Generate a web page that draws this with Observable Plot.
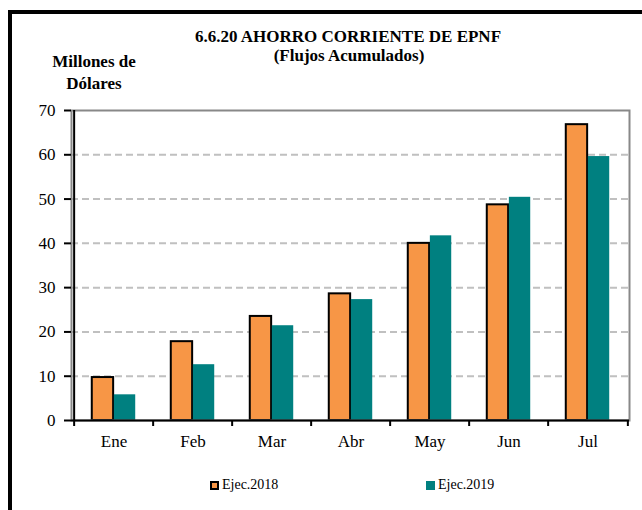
<!DOCTYPE html>
<html>
<head>
<meta charset="utf-8">
<script src="https://cdn.jsdelivr.net/npm/d3@7"></script>
<script src="https://cdn.jsdelivr.net/npm/@observablehq/plot@0.6"></script>
<style>
  html, body { margin: 0; padding: 0; background: #fff; }
  #wrap { position: relative; width: 642px; height: 510px; overflow: hidden; }
  #wrap, #wrap div, #wrap span { font-family: "Liberation Serif", "Times New Roman", Times, serif !important; }
  #frame { position: absolute; left: 8px; top: 10px; width: 700px; height: 600px; border-left: 4px solid #000; border-top: 4px solid #000; box-sizing: border-box; }
  #chart { position: absolute; left: 0; top: 0; }
  .t { position: absolute; font-weight: bold; color: #000; white-space: nowrap; text-align: center; transform: translateX(-50%); line-height: 17px; font-size: 17px; }
  #title1 { left: 348px; top: 28px; }
  #title2 { left: 349px; top: 47px; }
  #ylab { left: 94px; top: 51px; line-height: 22px; }
  .leg { position: absolute; top: 477px; font-size: 14px; display: flex; align-items: center; color: #000; }
  .sw { display: inline-block; width: 9px; height: 9px; margin-right: 3px; box-sizing: border-box; }
</style>
</head>
<body>
<div id="wrap">
  <div id="chart"></div>
  <div id="frame"></div>
  <div class="t" id="title1">6.6.20 AHORRO CORRIENTE DE EPNF</div>
  <div class="t" id="title2">(Flujos Acumulados)</div>
  <div class="t" id="ylab">Millones de<br>Dólares</div>
  <div class="leg" style="left:210px"><span class="sw" style="background:#F79646;border:2px solid #000"></span>Ejec.2018</div>
  <div class="leg" style="left:426px"><span class="sw" style="background:#008080"></span>Ejec.2019</div>
</div>
<script>
const months = ["Ene", "Feb", "Mar", "Abr", "May", "Jun", "Jul"];
const ejec2018 = [9.7, 17.8, 23.5, 28.6, 40.0, 48.7, 66.8];
const ejec2019 = [5.8, 12.6, 21.4, 27.3, 41.7, 50.4, 59.6];
const yTicks = [0, 10, 20, 30, 40, 50, 60, 70];
const gridTicks = [10, 20, 30, 40, 50, 60];

const d2018 = months.map((m, i) => ({month: m, value: ejec2018[i]}));
const d2019 = months.map((m, i) => ({month: m, value: ejec2019[i]}));

const W = 642, H = 510;
const mL = 71, mR = 13, mT = 110, mB = 90;
const step = (W - mL - mR) / months.length;
const half = step / 2;
const barW = step * 0.277;
const outer = (step - 2 * barW) / 2;

const orange = "#F79646", teal = "#008080";

const chart = Plot.plot({
  width: W,
  height: H,
  marginLeft: mL,
  marginRight: mR,
  marginTop: mT,
  marginBottom: mB,
  style: {fontFamily: "'Liberation Serif', 'Times New Roman', serif", fontSize: "17px", color: "#000", background: "transparent"},
  x: {domain: months, padding: 0, label: null},
  y: {domain: [0, 70], label: null},
  marks: [
    Plot.gridY(gridTicks, {stroke: "#c0c0c0", strokeOpacity: 1, strokeWidth: 2, strokeDasharray: "7,4"}),
    Plot.barY(d2018, {x: "month", y: "value", fill: orange, stroke: "#000", strokeWidth: 2, insetLeft: outer, insetRight: outer + barW}),
    Plot.barY(d2019, {x: "month", y: "value", fill: teal, insetLeft: outer + barW, insetRight: outer}),
    Plot.frame({stroke: "#888", strokeWidth: 2}),
    Plot.ruleY([0], {stroke: "#000", strokeWidth: 2}),
    Plot.ruleX(["Ene"], {x: d => d, y1: 0, y2: 70, dx: -half, stroke: "#000", strokeWidth: 2}),
    Plot.axisY(yTicks, {tickSize: 7, tickPadding: 9, stroke: "#000", strokeWidth: 2, fontSize: 17, label: null}),
    Plot.axisX(months, {tickSize: 6, dx: -half, tickFormat: () => "", stroke: "#000", strokeWidth: 2, label: null}),
    Plot.axisX(["Jul"], {tickSize: 6, dx: half, tickFormat: () => "", stroke: "#000", strokeWidth: 2, label: null}),
    Plot.axisX(months, {tickSize: 0, tickPadding: 14, fontSize: 17, label: null})
  ]
});
document.getElementById("chart").appendChild(chart);
</script>
</body>
</html>
